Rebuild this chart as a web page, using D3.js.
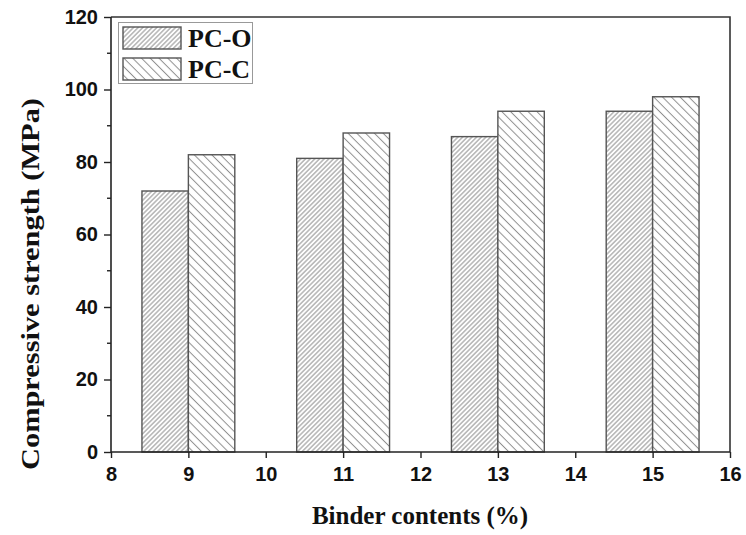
<!DOCTYPE html>
<html>
<head>
<meta charset="utf-8">
<script src="https://cdn.jsdelivr.net/npm/d3@7"></script>
<style>
  html, body { margin: 0; padding: 0; background: #fff; }
  svg { display: block; }
</style>
</head>
<body>
<svg id="chart" width="746" height="535"></svg>
<script>
// Binder content (%) groups and compressive strength (MPa) per mix
const binderContents = [9, 11, 13, 15];
const seriesNames = ["PC-O", "PC-C"];
const strengthPCO = [72, 81, 87, 94];
const strengthPCC = [82, 88, 94, 98];
const xTicks = [8, 9, 10, 11, 12, 13, 14, 15, 16];
const yTicks = [0, 20, 40, 60, 80, 100, 120];
const yMinorTicks = [10, 30, 50, 70, 90, 110];

const svg = d3.select("#chart");
const plot = { left: 111, right: 730, top: 17, bottom: 452 };

const x = d3.scaleLinear().domain([8, 16]).range([plot.left, plot.right]);
const y = d3.scaleLinear().domain([0, 120]).range([plot.bottom, plot.top]);
const barW = 0.6; // bar width in x-axis units

// Hatch patterns: dense "/" for PC-O, wider "\" for PC-C
const defs = svg.append("defs");
function hatch(id, spacing, angle) {
  const p = defs.append("pattern")
    .attr("id", id)
    .attr("patternUnits", "userSpaceOnUse")
    .attr("width", spacing).attr("height", spacing)
    .attr("patternTransform", `rotate(${angle})`);
  p.append("rect").attr("width", spacing).attr("height", spacing).attr("fill", "#fff");
  p.append("line")
    .attr("x1", spacing / 2).attr("y1", 0)
    .attr("x2", spacing / 2).attr("y2", spacing)
    .attr("stroke", "#8f8f8f").attr("stroke-width", 1);
}
hatch("hatchO", 3.3, 45);
hatch("hatchC", 6.2, -45);
const fills = ["url(#hatchO)", "url(#hatchC)"];

const series = [strengthPCO, strengthPCC];
series.forEach((vals, si) => {
  svg.append("g").selectAll("rect")
    .data(binderContents.map((b, i) => ({ b, v: vals[i] })))
    .join("rect")
    .attr("x", d => x(si === 0 ? d.b - barW : d.b))
    .attr("y", d => y(d.v))
    .attr("width", d => x(d.b + barW) - x(d.b))
    .attr("height", d => y(0) - y(d.v))
    .attr("fill", fills[si])
    .attr("stroke", "#555")
    .attr("stroke-width", 1.4);
});

// Frame: top and right borders
svg.append("path")
  .attr("d", `M${plot.left},${plot.top}H${plot.right}V${plot.bottom}`)
  .attr("fill", "none").attr("stroke", "#333").attr("stroke-width", 1.6);

const tickFont = "'Liberation Sans', Arial, sans-serif";

// Left axis
const yAxis = svg.append("g")
  .attr("transform", `translate(${plot.left},0)`)
  .call(d3.axisLeft(y).tickValues(yTicks).tickSize(7).tickSizeOuter(0).tickPadding(6));
svg.append("g")
  .attr("transform", `translate(${plot.left},0)`)
  .selectAll("line").data(yMinorTicks).join("line")
  .attr("x1", 0).attr("x2", -4)
  .attr("y1", d => y(d)).attr("y2", d => y(d))
  .attr("stroke", "#222").attr("stroke-width", 1.4);

// Bottom axis
const xAxis = svg.append("g")
  .attr("transform", `translate(0,${plot.bottom})`)
  .call(d3.axisBottom(x).tickValues(xTicks).tickSize(6).tickSizeOuter(0).tickPadding(9));

[yAxis, xAxis].forEach(g => {
  g.select(".domain").attr("stroke", "#222").attr("stroke-width", 1.6);
  g.selectAll(".tick line").attr("stroke", "#222").attr("stroke-width", 1.4);
  g.selectAll(".tick text")
    .attr("fill", "#111")
    .style("font-family", tickFont)
    .style("font-weight", "bold")
    .style("font-size", "20px");
});
yAxis.select(".domain").attr("d", `M0,${plot.top}V${plot.bottom}`);
xAxis.select(".domain").attr("d", `M${plot.left},0H${plot.right}`);

const titleFont = "'Liberation Serif', 'Times New Roman', serif";

// Axis titles
svg.append("text")
  .attr("x", 420).attr("y", 524)
  .attr("text-anchor", "middle")
  .style("font-family", titleFont).style("font-weight", "bold").style("font-size", "25px")
  .attr("fill", "#111")
  .text("Binder contents (%)");

svg.append("text")
  .attr("transform", "translate(39,284) rotate(-90)")
  .attr("text-anchor", "middle")
  .attr("textLength", 372).attr("lengthAdjust", "spacingAndGlyphs")
  .style("font-family", titleFont).style("font-weight", "bold").style("font-size", "25px")
  .attr("fill", "#111")
  .text("Compressive strength (MPa)");

// Legend
const legend = svg.append("g");
legend.append("rect")
  .attr("x", 118.5).attr("y", 22.5).attr("width", 134).attr("height", 61)
  .attr("fill", "#fff").attr("stroke", "#999").attr("stroke-width", 1);
seriesNames.forEach((name, i) => {
  const top = 27 + i * 31;
  legend.append("rect")
    .attr("x", 123).attr("y", top).attr("width", 58).attr("height", 22)
    .attr("fill", fills[i]).attr("stroke", "#555").attr("stroke-width", 1.4);
  legend.append("text")
    .attr("x", 188).attr("y", top + 20)
    .style("font-family", titleFont).style("font-weight", "bold").style("font-size", "26px")
    .attr("fill", "#111")
    .text(name);
});
</script>
</body>
</html>
